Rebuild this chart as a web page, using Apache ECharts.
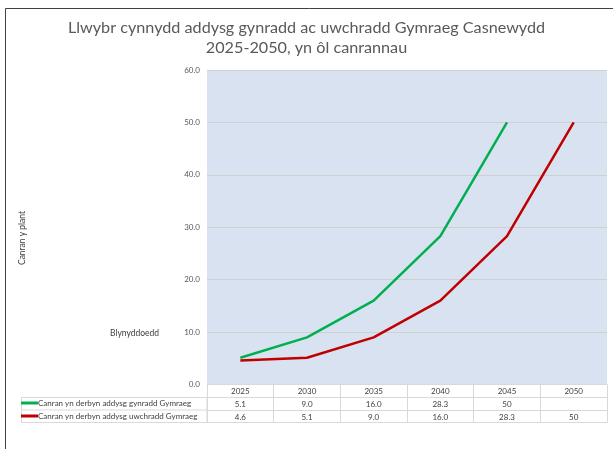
<!DOCTYPE html>
<html>
<head>
<meta charset="utf-8">
<script src="https://cdn.jsdelivr.net/npm/echarts@6/dist/echarts.min.js"></script>
<style>
html,body{margin:0;padding:0;background:#fff;}
#c{width:613px;height:449px;}
</style>
</head>
<body>
<div id="c"></div>
<script>
var years = ['2025','2030','2035','2040','2045','2050'];
var primaryName = 'Canran yn derbyn addysg gynradd Gymraeg';
var secondaryName = 'Canran yn derbyn addysg uwchradd Gymraeg';
var primary = [5.1, 9.0, 16.0, 28.3, 50, null];
var secondary = [4.6, 5.1, 9.0, 16.0, 28.3, 50];
var primaryLabels = ['5.1','9.0','16.0','28.3','50',''];
var secondaryLabels = ['4.6','5.1','9.0','16.0','28.3','50'];
var titleText = 'Llwybr cynnydd addysg gynradd ac uwchradd Gymraeg Casnewydd\n2025-2050, yn ôl canrannau';

var FONT = 'Lato';
var GRID_LINE = '#d9d9d9';
var chart = echarts.init(document.getElementById('c'));
var tableLabel = {fontSize: 8, color: '#404040', fontFamily: FONT, margin: 3, interval: 0};

chart.setOption({
  animation: false,
  title: {
    text: titleText,
    left: 'center',
    top: 13,
    textStyle: {fontSize: 16.2, fontWeight: 'normal', color: '#595959', fontFamily: FONT, lineHeight: 20}
  },
  legend: [
    {data: [primaryName], orient: 'vertical', left: 21, top: 399, itemWidth: 17, itemHeight: 3, itemGap: 0,
     icon: 'rect', textStyle: {fontSize: 8, color: '#404040', fontFamily: FONT, padding: [0,0,0,-5]}, padding: 0, selectedMode: false},
    {data: [secondaryName], orient: 'vertical', left: 21, top: 412, itemWidth: 17, itemHeight: 3, itemGap: 0,
     icon: 'rect', textStyle: {fontSize: 8, color: '#404040', fontFamily: FONT, padding: [0,0,0,-5]}, padding: 0, selectedMode: false}
  ],
  grid: {left: 207, right: 6, top: 70, bottom: 64.5, show: true, backgroundColor: '#d9e2f1', borderWidth: 0},
  xAxis: [
    {type: 'category', data: years, boundaryGap: true, position: 'bottom',
     axisLine: {show: true, lineStyle: {color: GRID_LINE}},
     axisTick: {show: true, interval: 0, length: 38, lineStyle: {color: GRID_LINE}},
     axisLabel: tableLabel},
    {type: 'category', data: primaryLabels, boundaryGap: true, position: 'bottom', offset: 13,
     axisLine: {show: true, lineStyle: {color: GRID_LINE}}, axisTick: {show: false},
     axisLabel: tableLabel},
    {type: 'category', data: secondaryLabels, boundaryGap: true, position: 'bottom', offset: 25.5,
     axisLine: {show: true, lineStyle: {color: GRID_LINE}}, axisTick: {show: false},
     axisLabel: tableLabel},
    {type: 'category', data: years, boundaryGap: true, position: 'bottom', offset: 38,
     axisLine: {show: true, lineStyle: {color: GRID_LINE}}, axisTick: {show: false},
     axisLabel: {show: false}}
  ],
  yAxis: {
    type: 'value', min: 0, max: 60, interval: 10,
    axisLine: {show: false}, axisTick: {show: false},
    axisLabel: {fontSize: 8, color: '#595959', fontFamily: FONT, margin: 7,
      formatter: function (v) { return v.toFixed(1); }},
    splitLine: {lineStyle: {color: '#d0d0d0', width: 1}}
  },
  series: [
    {name: primaryName, type: 'line', data: primary, symbol: 'none', color: '#00b050',
     lineStyle: {width: 2.5, color: '#00b050'}, itemStyle: {color: '#00b050'}},
    {name: secondaryName, type: 'line', data: secondary, symbol: 'none', color: '#c00000',
     lineStyle: {width: 2.5, color: '#c00000'}, itemStyle: {color: '#c00000'}}
  ],
  graphic: [
    {type: 'rect', shape: {x: 5.5, y: 8.5, width: 700, height: 600}, style: {fill: 'none', stroke: '#404040', lineWidth: 1}, silent: true},
    {type: 'rect', shape: {x: 21.5, y: 397.5, width: 185.5, height: 25}, style: {fill: 'none', stroke: GRID_LINE, lineWidth: 1}, silent: true},
    {type: 'line', shape: {x1: 21.5, y1: 410, x2: 207, y2: 410}, style: {stroke: GRID_LINE, lineWidth: 1}, silent: true},
    {type: 'text', x: 22, y: 238, rotation: Math.PI / 2,
     style: {text: 'Canran y plant', fontSize: 8.5, fill: '#404040', fontFamily: FONT, align: 'center', verticalAlign: 'middle'}},
    {type: 'text', x: 110, y: 333,
     style: {text: 'Blynyddoedd', fontSize: 8.5, fill: '#404040', fontFamily: FONT, align: 'left', verticalAlign: 'middle'}}
  ]
});
</script>
</body>
</html>
